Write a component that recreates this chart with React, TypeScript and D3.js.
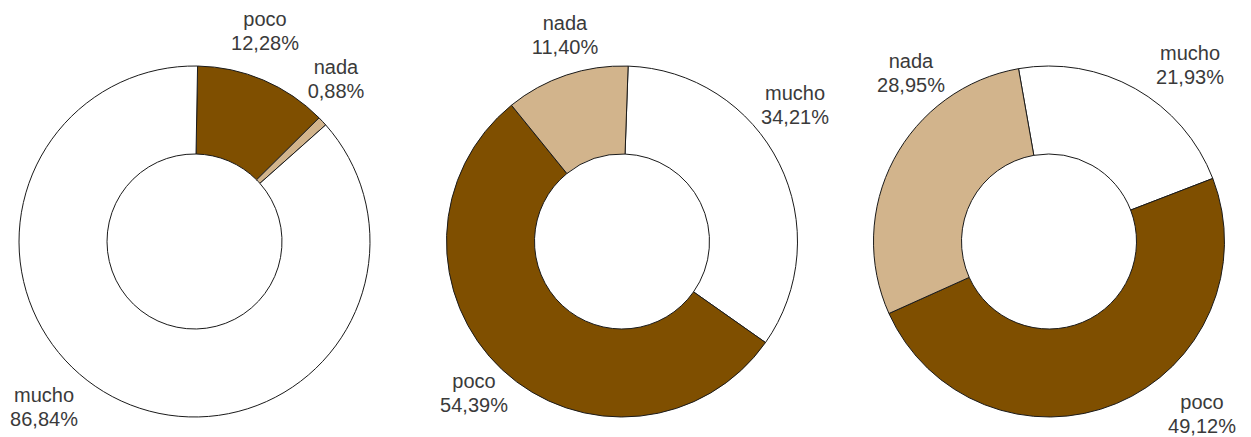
import React from "react";
import * as d3 from "d3";

// ---- data ----
const categories = ["mucho", "poco", "nada"];
const colors = { mucho: "#ffffff", poco: "#7f4f00", nada: "#d2b48c" };

// values per chart (percent), same order as categories
const chart1Values = [86.84, 12.28, 0.88];
const chart2Values = [34.21, 54.39, 11.4];
const chart3Values = [21.93, 49.12, 28.95];

// clockwise slice order from the start angle
const chart1Order = ["poco", "nada", "mucho"];
const chart2Order = ["mucho", "poco", "nada"];
const chart3Order = ["mucho", "poco", "nada"];

// ---- layout ----
const W = 1251;
const H = 437;
const OUTER = 175.5;
const INNER = 87.5;

const charts = [
  {
    values: chart1Values,
    order: chart1Order,
    cx: 194.5,
    cy: 241.5,
    startDeg: 1,
    labels: { poco: [265, 26], nada: [336, 74], mucho: [44, 402] },
  },
  {
    values: chart2Values,
    order: chart2Order,
    cx: 622,
    cy: 241.5,
    startDeg: 2,
    labels: { nada: [565, 30], mucho: [795, 100], poco: [474, 388] },
  },
  {
    values: chart3Values,
    order: chart3Order,
    cx: 1049,
    cy: 241.5,
    startDeg: -10,
    labels: { nada: [911, 68], mucho: [1190, 60], poco: [1202, 409] },
  },
];

const fmt = (v: number) => v.toFixed(2).replace(".", ",") + "%";

function Donut({ chart }: { chart: any }) {
  const items = chart.order.map((name: string) => ({
    name,
    value: chart.values[categories.indexOf(name)],
  }));
  const start = (chart.startDeg * Math.PI) / 180;
  const pie = d3
    .pie<any>()
    .sort(null)
    .value((d: any) => d.value)
    .startAngle(start)
    .endAngle(start + 2 * Math.PI);
  const arc = d3.arc<any>().innerRadius(INNER).outerRadius(OUTER);
  const arcs = pie(items);
  return (
    <g>
      <g transform={`translate(${chart.cx},${chart.cy})`}>
        {arcs.map((a: any) => (
          <path
            key={a.data.name}
            d={arc(a) || ""}
            fill={(colors as any)[a.data.name]}
            stroke="#1a1a1a"
            strokeWidth={1}
            strokeLinejoin="round"
          />
        ))}
      </g>
      {arcs.map((a: any) => {
        const pos = chart.labels[a.data.name];
        return (
          <text
            key={"t" + a.data.name}
            x={pos[0]}
            y={pos[1]}
            textAnchor="middle"
            fontFamily="'Liberation Sans', Arial, sans-serif"
            fontSize={20}
            fill="#3a3a3a"
          >
            <tspan x={pos[0]} y={pos[1]}>
              {a.data.name}
            </tspan>
            <tspan x={pos[0]} y={pos[1] + 24}>
              {fmt(a.data.value)}
            </tspan>
          </text>
        );
      })}
    </g>
  );
}

export default function App() {
  return (
    <svg
      width={W}
      height={H}
      style={{ position: "absolute", left: 0, top: 0, background: "#fff" }}
    >
      <rect x={0} y={0} width={W} height={H} fill="#fff" />
      {charts.map((c, i) => (
        <Donut key={i} chart={c} />
      ))}
    </svg>
  );
}
